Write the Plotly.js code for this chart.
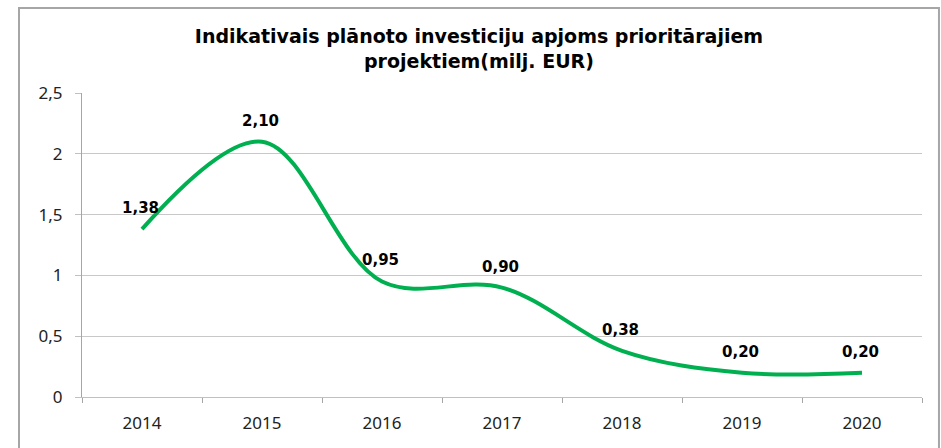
<!DOCTYPE html>
<html>
<head>
<meta charset="utf-8">
<script src="https://cdn.plot.ly/plotly-3.0.1.min.js"></script>
<style>
  body { margin: 0; background: #fff; }
  #chart { width: 941px; height: 448px; }
</style>
</head>
<body>
<div id="chart"></div>
<script>
var years = ['2014', '2015', '2016', '2017', '2018', '2019', '2020'];
var values = [1.38, 2.10, 0.95, 0.90, 0.38, 0.20, 0.20];
var chartTitle = 'Indikativais plānoto investiciju apjoms prioritārajiem<br>projektiem(milj. EUR)';

// labels above each point, comma decimals like the original
// (x given as category index, strings like '2014' get read as numbers)
var labels = [];
for (var i = 0; i < years.length; i++) {
  labels.push({
    xref: 'x', yref: 'y',
    x: i,
    y: values[i],
    text: values[i].toFixed(2).replace('.', ','),
    showarrow: false,
    yshift: 21,
    xshift: -2,
    font: { family: 'DejaVu Sans', size: 15, color: '#000', weight: 'bold' }
  });
}

var line = {
  x: years,
  y: values,
  type: 'scatter',
  mode: 'lines',
  line: { color: '#00b050', width: 4, shape: 'spline', smoothing: 1 },
  hoverinfo: 'none',
  showlegend: false
};

var layout = {
  width: 941,
  height: 448,
  margin: { l: 82, r: 19, t: 93, b: 51 },
  paper_bgcolor: '#fff',
  plot_bgcolor: '#fff',
  separators: ',.',
  title: {
    text: chartTitle,
    xref: 'container',
    x: 0.509,
    yref: 'container',
    y: 0.903,
    yanchor: 'top',
    font: { family: 'DejaVu Sans', size: 19, color: '#000', weight: 'bold' }
  },
  xaxis: {
    type: 'category',
    range: [-0.5, 6.5],
    tickson: 'boundaries',
    ticks: 'outside',
    ticklen: 5,
    tickcolor: '#a6a6a6',
    showline: true,
    linecolor: '#c0c0c0',
    linewidth: 1,
    showgrid: false,
    zeroline: false,
    tickfont: { family: 'Noto Sans', size: 17, color: '#222' },
    ticklabelstandoff: 11
  },
  yaxis: {
    range: [0, 2.5],
    dtick: 0.5,
    ticks: 'outside',
    ticklen: 6,
    tickcolor: '#c0c0c0',
    showline: true,
    linecolor: '#a6a6a6',
    linewidth: 1,
    gridcolor: '#c8c8c8',
    gridwidth: 1,
    zeroline: false,
    tickfont: { family: 'Noto Sans', size: 17, color: '#222' },
    ticklabelstandoff: 9
  },
  annotations: labels,
  shapes: [{
    type: 'rect',
    xref: 'paper', yref: 'paper',
    x0: -0.075, x1: 1.0202, y0: -0.2, y1: 1.2796,
    line: { color: '#a6a6a6', width: 2 },
    layer: 'below'
  }]
};

Plotly.newPlot('chart', [line], layout, { displayModeBar: false, staticPlot: true });
</script>
</body>
</html>
